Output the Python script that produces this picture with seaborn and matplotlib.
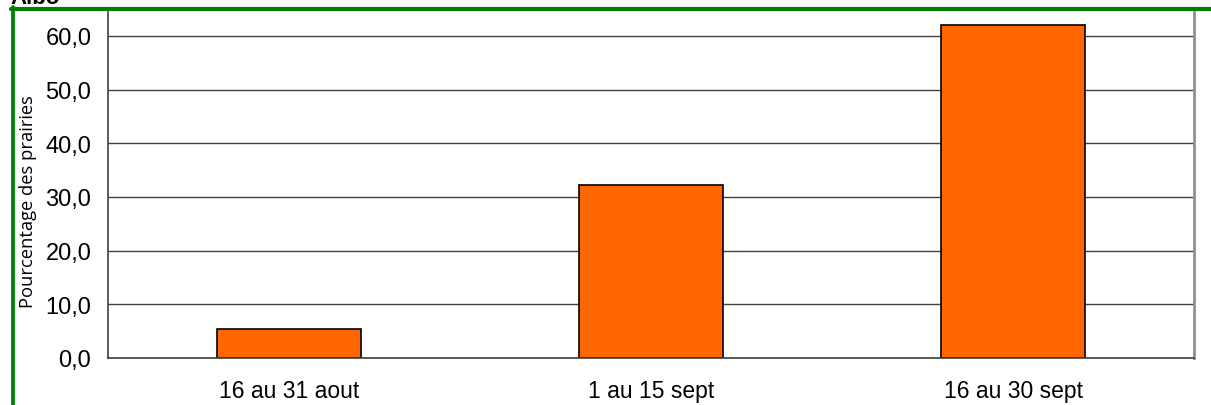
import matplotlib
matplotlib.use("Agg")
import matplotlib.pyplot as plt
from matplotlib.lines import Line2D
from matplotlib.ticker import FixedLocator, FuncFormatter
import seaborn as sns
import pandas as pd

periods = ["16 au 31 aout", "1 au 15 sept", "16 au 30 sept"]
percentages = [5.4, 32.2, 62.0]

df = pd.DataFrame({"Periode": periods, "Pourcentage": percentages})

sns.set_style("white")
plt.rcParams["font.family"] = ["Liberation Sans", "DejaVu Sans"]
plt.rcParams["text.color"] = "black"
plt.rcParams["axes.labelcolor"] = "black"

fig = plt.figure(figsize=(12.11, 4.06), dpi=100)
ax = fig.add_axes([108 / 1211, 1 - 359 / 406, (1194 - 108) / 1211, (359 - 13) / 406])

sns.barplot(data=df, x="Periode", y="Pourcentage", color="#FF6600",
            edgecolor="black", linewidth=1.2, width=0.4, saturation=1, ax=ax)

ax.set_xlim(-0.5, 2.5)
ax.set_ylim(0, 64.47)
ax.set_yticks([0, 10, 20, 30, 40, 50, 60])
ax.yaxis.set_major_formatter(FuncFormatter(lambda v, p: f"{v:.1f}".replace(".", ",")))
ax.yaxis.grid(True, color="#404040", linewidth=1)
ax.set_axisbelow(True)

# category labels centred, tick marks on the boundaries
ax.tick_params(axis="x", which="major", length=0, labelsize=16.5, pad=15, labelcolor="black")
ax.xaxis.set_minor_locator(FixedLocator([-0.5, 0.5, 1.5, 2.5]))
ax.tick_params(axis="x", which="minor", length=8, width=1, color="#404040", direction="out")
ax.tick_params(axis="y", length=8, width=1, color="#404040", direction="out", labelsize=17, pad=4,
               labelcolor="black")

ax.set_xlabel("")
ax.set_ylabel("Pourcentage des prairies", fontsize=13.2, family=["Open Sans", "DejaVu Sans"])
ax.yaxis.set_label_coords((37 - 108) / 1086, (359 - 202) / 346)

for side in ["left", "bottom"]:
    ax.spines[side].set_color("#404040")
    ax.spines[side].set_linewidth(1.2)
ax.spines["right"].set_color("#909090")
ax.spines["right"].set_linewidth(2)
ax.spines["top"].set_visible(False)

# green frame lines of the page
fig.add_artist(Line2D([11 / 1211, 1], [1 - 10 / 406] * 2, color="#008000", linewidth=3, transform=fig.transFigure))
fig.add_artist(Line2D([12.5 / 1211] * 2, [0, 1 - 8 / 406], color="#008000", linewidth=2.7, transform=fig.transFigure))

fig.text(10 / 1211, 1 - 4 / 406, "Albo", fontsize=16, fontweight="bold", va="baseline", ha="left")

fig.savefig("out.png", dpi=100)
